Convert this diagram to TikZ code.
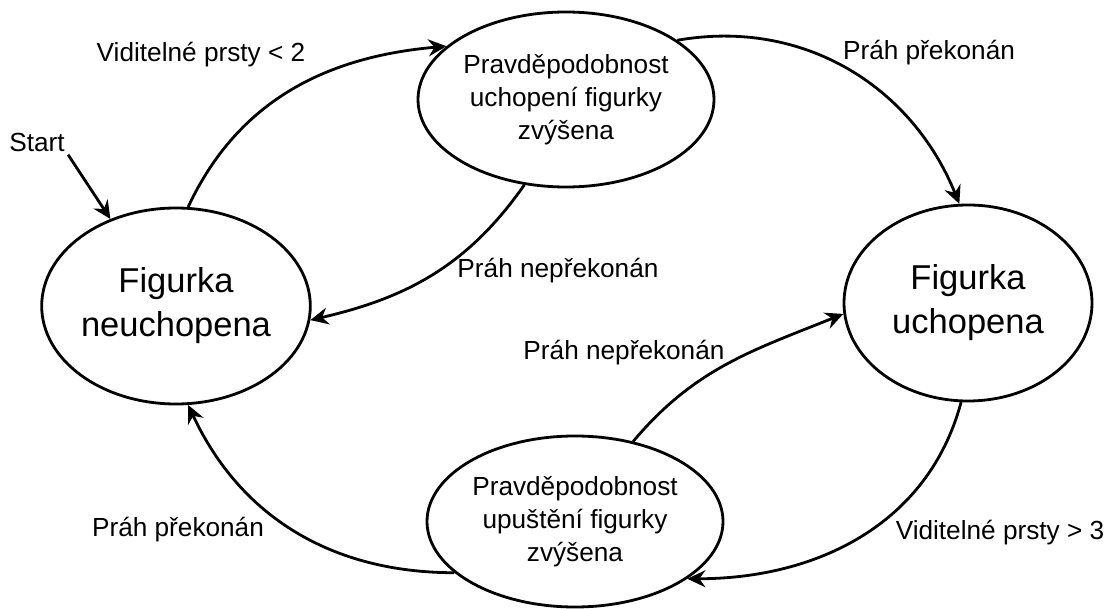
\documentclass[tikz,border=0pt]{standalone}
\usepackage{fontspec}
\setmainfont{Liberation Sans}
\usetikzlibrary{arrows.meta,shapes.geometric}
\begin{document}
\begin{tikzpicture}[
    x=0.5pt, y=0.5pt,
    >={Stealth[length=9pt,width=8.5pt,inset=3pt]},
    line width=1.4pt,
    state/.style={ellipse, draw, inner sep=0pt, align=center,
      font=\fontsize{13.1}{16.5}\selectfont},
    bigstate/.style={state, font=\fontsize{17.25}{22}\selectfont},
    lbl/.style={inner sep=1pt, font=\fontsize{13.1}{16.5}\selectfont}
]
  \useasboundingbox (0,0) rectangle (1109,-609);

  % nodes
  \node[bigstate, minimum width=124pt, minimum height=98pt] (L) at (176,-306) {Figurka\\neuchopena};
  \node[bigstate, minimum width=124pt, minimum height=98pt] (R) at (968,-303) {Figurka\\uchopena};
  \node[state, minimum width=148pt, minimum height=87.5pt] (T) at (566,-99.5) {Pravděpodobnost\\uchopení figurky\\zvýšena};
  \node[state, minimum width=148pt, minimum height=85.5pt] (B) at (575,-521.5) {Pravděpodobnost\\upuštění figurky\\zvýšena};

  % labels
  \node[lbl] (start) at (37,-142) {Start};
  \node[lbl] (l1) at (201,-55) {Viditelné prsty < 2};
  \node[lbl] (l2) at (929,-53) {Práh překonán};
  \node[lbl] (l3) at (558,-271) {Práh nepřekonán};
  \node[lbl] (l4) at (624,-353) {Práh nepřekonán};
  \node[lbl] (l5) at (1000,-533) {Viditelné prsty > 3};
  \node[lbl] (l6) at (178,-530) {Práh překonán};

  % edges
  \draw[->] (start.south east) -- (L.127);
  \draw[->] (L.83.6) to[out=65,in=185] (T.156.5);
  \draw[->] (T.28.6) to[out=10,in=112] (R.95.8);
  \draw[->] (T.244.9) to[out=235,in=13] (L.354.6);
  \draw[->] (B.54.4) to[out=50,in=202] (R.185.4);
  \draw[->] (R.266.5) to[out=255,in=0] (B.333.4);
  \draw[->] (B.203.1) to[out=180,in=295] (L.277.9);
\end{tikzpicture}
\end{document}
